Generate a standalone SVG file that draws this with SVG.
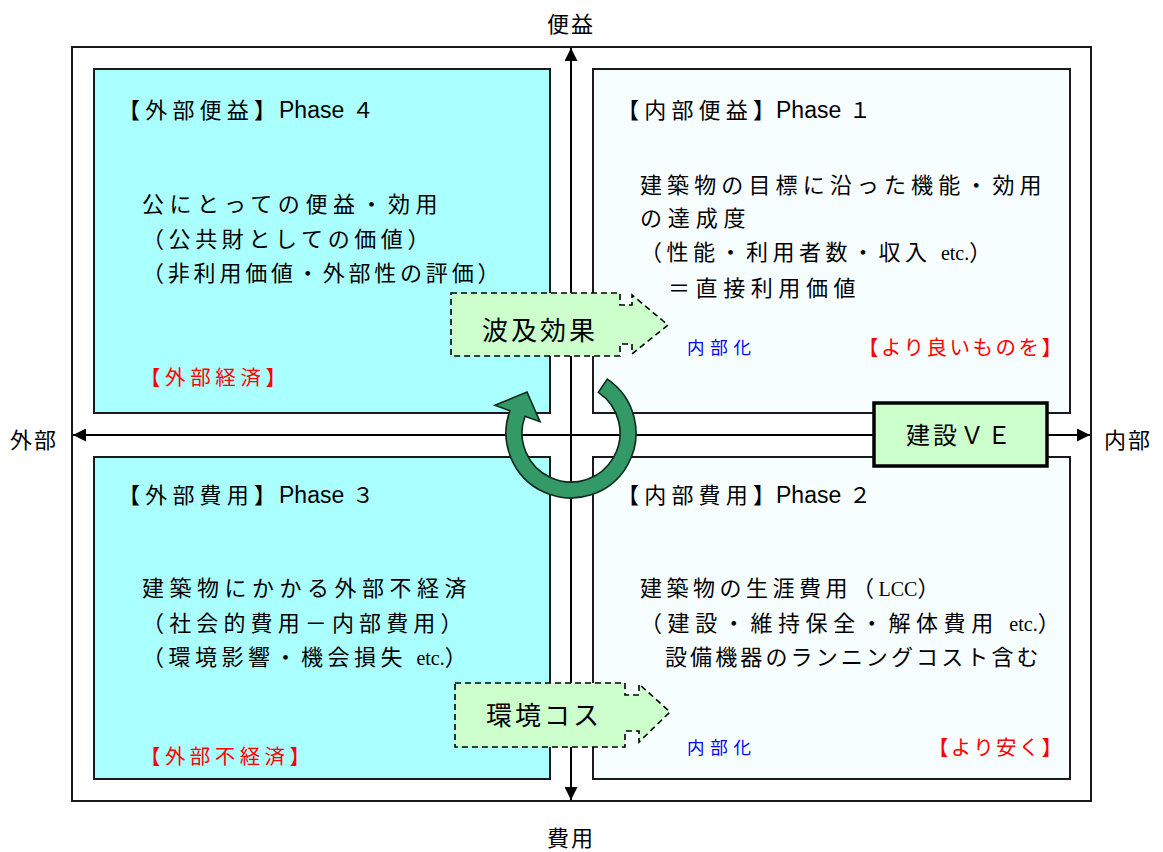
<svg xmlns="http://www.w3.org/2000/svg" width="1163" height="852" viewBox="0 0 1163 852">
<style>
text{font-family:"Noto Sans CJK JP","Noto Sans",sans-serif;fill:#000}
.t{font-size:22px;letter-spacing:4.5px}
.h{font-size:22px}
.ph{font-family:"Liberation Sans",sans-serif;font-size:23px}
.se{font-family:"Liberation Serif",serif;font-size:20px;letter-spacing:0}
.red{font-size:20.5px;fill:#ff0000}
.blue{font-size:17.5px;fill:#0000ff}
.ax{font-size:22px;letter-spacing:2px}
.cyan{fill:#aaffff;stroke:#1a1a1a;stroke-width:2}
.pale{fill:#f7feff;stroke:#1a1a1a;stroke-width:2}
.dash{fill:#ccffcc;stroke:#000;stroke-width:1.6;stroke-dasharray:6 4}
.axis{stroke:#000;stroke-width:2;fill:none}
</style>
<defs>
<marker id="ah" viewBox="0 0 10 10" refX="10" refY="5" markerWidth="6.5" markerHeight="6.5" markerUnits="strokeWidth" orient="auto">
<path d="M0,0 L10,5 L0,10 Z" fill="#000"/>
</marker>
</defs>
<rect x="0" y="0" width="1163" height="852" fill="#fff"/>
<rect id="frame" x="72" y="47" width="1019" height="754" fill="#fff" stroke="#1a1a1a" stroke-width="2"/>
<g id="q4"><rect class="cyan" x="94" y="69" width="456" height="344"/>
<text class="h" x="118" y="118" textLength="158" lengthAdjust="spacing">【外部便益】</text>
<text class="ph" x="279" y="118">Phase</text>
<text class="h" x="352" y="118">４</text>
<text class="t" x="142" y="212" textLength="300" lengthAdjust="spacing">公にとっての便益・効用</text>
<text class="t" x="142" y="247" textLength="292" lengthAdjust="spacing">（公共財としての価値）</text>
<text class="t" x="142" y="281" textLength="362" lengthAdjust="spacing">（非利用価値・外部性の評価）</text>
<text class="red" x="140" y="385" textLength="146" lengthAdjust="spacing">【外部経済】</text>
</g>
<g id="q1"><rect class="pale" x="593" y="69" width="477" height="344"/>
<text class="h" x="617" y="118" textLength="158" lengthAdjust="spacing">【内部便益】</text>
<text class="ph" x="776" y="118">Phase</text>
<text class="h" x="849" y="118">１</text>
<text class="t" x="640" y="193" textLength="406" lengthAdjust="spacing">建築物の目標に沿った機能・効用</text>
<text class="t" x="640" y="226" textLength="110" lengthAdjust="spacing">の達成度</text>
<text class="t" x="640" y="260">（性能・利用者数・収入 <tspan class="se">etc.</tspan>）</text>
<text class="t" x="668" y="296" textLength="192" lengthAdjust="spacing">＝直接利用価値</text>
<text class="blue" x="687" y="354" textLength="64" lengthAdjust="spacing">内部化</text>
<text class="red" x="858" y="355" textLength="204" lengthAdjust="spacing">【より良いものを】</text>
</g>
<g id="q3"><rect class="cyan" x="94" y="457" width="456" height="322"/>
<text class="h" x="118" y="503" textLength="158" lengthAdjust="spacing">【外部費用】</text>
<text class="ph" x="279" y="503">Phase</text>
<text class="h" x="352" y="503">３</text>
<text class="t" x="142" y="596" textLength="329" lengthAdjust="spacing">建築物にかかる外部不経済</text>
<text class="t" x="142" y="631" textLength="325" lengthAdjust="spacing">（社会的費用－内部費用）</text>
<text class="t" x="142" y="665">（環境影響・機会損失 <tspan class="se">etc.</tspan>）</text>
<text class="red" x="140" y="764" textLength="170" lengthAdjust="spacing">【外部不経済】</text>
</g>
<g id="q2"><rect class="pale" x="593" y="457" width="477" height="322"/>
<text class="h" x="617" y="503" textLength="158" lengthAdjust="spacing">【内部費用】</text>
<text class="ph" x="776" y="503">Phase</text>
<text class="h" x="849" y="503">２</text>
<text class="t" x="640" y="596">建築物の生涯費用（<tspan class="se">LCC</tspan>）</text>
<text class="t" x="640" y="631" style="letter-spacing:5.6px">（建設・維持保全・解体費用 <tspan class="se">etc.</tspan>）</text>
<text class="t" x="665" y="665" textLength="378" lengthAdjust="spacing">設備機器のランニングコスト含む</text>
<text class="blue" x="687" y="754" textLength="64" lengthAdjust="spacing">内部化</text>
<text class="red" x="928" y="755" textLength="134" lengthAdjust="spacing">【より安く】</text>
</g>
<g id="connectors">
<line class="axis" x1="571" y1="435" x2="571" y2="48" marker-end="url(#ah)"/>
<line class="axis" x1="571" y1="435" x2="571" y2="800" marker-end="url(#ah)"/>
<line class="axis" x1="571" y1="435" x2="73" y2="435" marker-end="url(#ah)"/>
<line class="axis" x1="571" y1="435" x2="1090" y2="435" marker-end="url(#ah)"/>
</g>
<g id="axis-labels">
<text class="ax" x="571" y="32" text-anchor="middle">便益</text>
<text class="ax" x="571" y="846" text-anchor="middle">費用</text>
<text class="ax" x="10" y="448">外部</text>
<text class="ax" x="1104" y="448">内部</text>
</g>
<g id="ripple">
<path class="dash" d="M451,293 L620,293 L620,305 L632,305 L632,295 L668,325 L632,354 L632,344 L620,344 L620,356 L451,356 Z"/>
<text x="482" y="340" style="font-size:26px;letter-spacing:3px">波及効果</text>
</g>
<g id="envcost">
<path class="dash" d="M455,683 L625,683 L625,695 L639,695 L639,684 L670,712 L639,742 L639,731 L625,731 L625,747 L455,747 Z"/>
<text x="486" y="725" style="font-size:26px;letter-spacing:3px">環境コス</text>
</g>
<g id="cycle">
<path d="M607.3,379.1 A65,65 0 1 1 509.9,410.8 L494.9,405.3 L527,392 L540,421.7 L525,416.2 A49,49 0 1 0 598.4,392.4 Z" fill="#339966" stroke="#0d2a1a" stroke-width="1.6" stroke-linejoin="miter"/>
</g>
<g id="ve">
<rect x="874" y="403" width="173" height="63" fill="#ccffcc" stroke="#000" stroke-width="3.5"/>
<text x="960" y="444" text-anchor="middle" style="font-size:24px;letter-spacing:3px">建設ＶＥ</text>
</g>
</svg>
